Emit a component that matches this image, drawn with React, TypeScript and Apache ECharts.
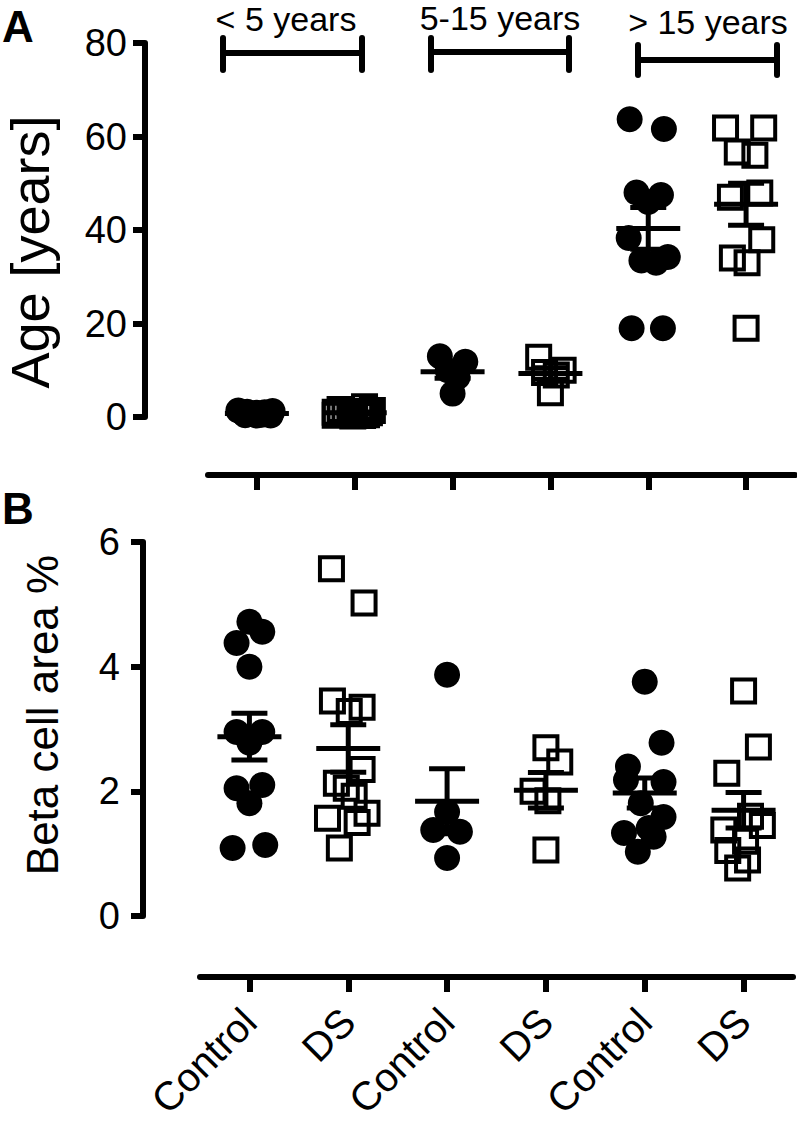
import React, { useEffect, useRef } from 'react';
import * as echarts from 'echarts';

// ---------- data ----------
const categories = ['Control', 'DS', 'Control', 'DS', 'Control', 'DS'];
const groupLabels = ['< 5 years', '5-15 years', '> 15 years'];
const ageTicks = [0, 20, 40, 60, 80];
const betaTicks = [0, 2, 4, 6];

// Panel A: age [years]
const ageControlUnder5 = [1.4, 1.3, 1.1, 1.0, 0.9, 0.8, 0.7, 0.6, 0.5, 0.4, 0.3, 0.3];
const ageControlUnder5Jitter = [-0.19, 0.16, -0.1, 0.08, 0, -0.14, 0.12, -0.05, 0.05, -0.12, 0.14, 0];
const ageDSUnder5 = [2.2, 1.6, 1.4, 1.2, 1.1, 1.0, 0.9, 0.7, 0.6, 0.5, 0.4, 0.3, 0.2];
const ageDSUnder5Jitter = [0.1, -0.15, 0.18, -0.05, 0.05, -0.2, 0.15, 0, -0.1, 0.12, -0.2, 0.08, -0.02];
const ageControl5to15 = [13, 11.8, 10, 8.5, 5];
const ageControl5to15Jitter = [-0.13, 0.13, -0.05, 0.05, 0];
const ageDS5to15 = [12.8, 10, 9.5, 9, 5.2];
const ageDS5to15Jitter = [-0.12, 0.13, -0.06, 0.06, 0];
const ageControlOver15 = [63.7, 61.6, 48, 47.5, 46, 38.3, 34.2, 33.5, 33, 19, 19];
const ageControlOver15Jitter = [-0.19, 0.16, -0.12, 0.13, 0, -0.2, 0.2, -0.07, 0.08, -0.17, 0.15];
const ageDSOver15 = [61.8, 61.8, 56.7, 56, 47.9, 47, 37.9, 34, 33, 19];
const ageDSOver15Jitter = [-0.21, 0.18, -0.09, 0.09, 0.14, -0.16, 0.16, -0.14, 0.01, 0];

// Panel B: beta cell area %
const betaControlUnder5 = [4.72, 4.56, 4.38, 4.0, 2.95, 2.95, 2.78, 2.1, 2.05, 1.81, 1.14, 1.09];
const betaControlUnder5Jitter = [0, 0.13, -0.13, 0, -0.13, 0.13, 0, 0.13, -0.13, 0, 0.16, -0.17];
const betaDSUnder5 = [5.57, 5.02, 3.45, 3.35, 3.28, 2.35, 2.13, 2.05, 1.92, 1.65, 1.57, 1.5, 1.09];
const betaDSUnder5Jitter = [-0.17, 0.16, -0.16, 0.14, 0.01, 0.14, -0.12, -0.02, 0.06, 0.19, -0.21, 0.09, -0.09];
const betaControl5to15 = [3.87, 1.67, 1.38, 1.35, 0.93];
const betaControl5to15Jitter = [0, 0, -0.14, 0.13, 0];
const betaDS5to15 = [2.7, 2.47, 2.0, 1.85, 1.06];
const betaDS5to15Jitter = [0, 0.14, -0.13, 0.02, 0];
const betaControlOver15 = [3.76, 2.78, 2.4, 2.18, 2.15, 1.81, 1.59, 1.41, 1.33, 1.27, 1.03];
const betaControlOver15Jitter = [0, 0.17, -0.17, -0.19, 0.19, -0.04, 0.19, 0.04, -0.21, 0.09, -0.07];
const betaDSOver15 = [3.61, 2.71, 2.29, 1.6, 1.45, 1.38, 1.2, 1.05, 0.9, 0.77];
const betaDSOver15Jitter = [0, 0.15, -0.17, 0.07, 0.19, -0.2, 0.02, -0.16, 0.04, -0.06];

// ---------- helpers ----------
const FONT = '"Liberation Sans", Arial, Helvetica, sans-serif';

const toPoints = (x: number, vals: number[], jit: number[]) =>
  vals.map((v, i) => [x + jit[i], v]);

const meanSem = (x: number, vals: number[]) => {
  const n = vals.length;
  const m = vals.reduce((a, b) => a + b, 0) / n;
  const sd = Math.sqrt(vals.reduce((a, b) => a + (b - m) * (b - m), 0) / (n - 1));
  return [x, m, sd / Math.sqrt(n)];
};

const ageControlGroups = [
  [ageControlUnder5, ageControlUnder5Jitter],
  [ageControl5to15, ageControl5to15Jitter],
  [ageControlOver15, ageControlOver15Jitter],
] as [number[], number[]][];
const ageDSGroups = [
  [ageDSUnder5, ageDSUnder5Jitter],
  [ageDS5to15, ageDS5to15Jitter],
  [ageDSOver15, ageDSOver15Jitter],
] as [number[], number[]][];
const betaControlGroups = [
  [betaControlUnder5, betaControlUnder5Jitter],
  [betaControl5to15, betaControl5to15Jitter],
  [betaControlOver15, betaControlOver15Jitter],
] as [number[], number[]][];
const betaDSGroups = [
  [betaDSUnder5, betaDSUnder5Jitter],
  [betaDS5to15, betaDS5to15Jitter],
  [betaDSOver15, betaDSOver15Jitter],
] as [number[], number[]][];

const buildPoints = (groups: [number[], number[]][], offset: number) =>
  groups.flatMap(([v, j], g) => toPoints(2 * g + offset, v, j));
const buildStats = (ctrl: [number[], number[]][], ds: [number[], number[]][]) =>
  ctrl.flatMap(([v], g) => [meanSem(2 * g + 1, v), meanSem(2 * g + 2, ds[g][0])]);

const renderMeanSem = (params: any, api: any) => {
  const x = api.value(0);
  const m = api.value(1);
  const s = api.value(2);
  const c = api.coord([x, m]);
  const hi = api.coord([x, m + s]);
  const lo = api.coord([x, m - s]);
  const meanHalf = 32;
  const capHalf = 18;
  const style = { stroke: '#000', lineWidth: 5, fill: null };
  return {
    type: 'group',
    children: [
      { type: 'line', shape: { x1: c[0] - meanHalf, y1: c[1], x2: c[0] + meanHalf, y2: c[1] }, style },
      { type: 'line', shape: { x1: c[0], y1: hi[1], x2: c[0], y2: lo[1] }, style },
      { type: 'line', shape: { x1: c[0] - capHalf, y1: hi[1], x2: c[0] + capHalf, y2: hi[1] }, style },
      { type: 'line', shape: { x1: c[0] - capHalf, y1: lo[1], x2: c[0] + capHalf, y2: lo[1] }, style },
    ],
  };
};

const axisLineStyle = { color: '#000', width: 6 };

const makeX = (gridIndex: number, offset: number, showLabels: boolean) => ({
  gridIndex,
  type: 'value',
  min: 0.5,
  max: 6.5,
  position: 'bottom',
  offset,
  splitLine: { show: false },
  axisLine: { show: true, onZero: false, lineStyle: axisLineStyle },
  axisTick: { show: true, length: 15, lineStyle: axisLineStyle, customValues: [1, 2, 3, 4, 5, 6] },
  axisLabel: {
    show: showLabels,
    customValues: [1, 2, 3, 4, 5, 6],
    formatter: (v: number) => categories[Math.round(v) - 1] ?? '',
    rotate: 45,
    fontSize: 40,
    fontFamily: FONT,
    color: '#000',
    margin: 38,
  },
});

const makeY = (gridIndex: number, ticks: number[], offset: number, margin: number) => ({
  gridIndex,
  type: 'value',
  min: ticks[0],
  max: ticks[ticks.length - 1],
  interval: ticks[1] - ticks[0],
  position: 'left',
  offset,
  splitLine: { show: false },
  axisLine: { show: true, onZero: false, lineStyle: axisLineStyle },
  axisTick: { show: true, length: 12, lineStyle: axisLineStyle },
  axisLabel: { fontSize: 38, fontFamily: FONT, color: '#000', margin },
});

const circleStyle = { color: '#000', opacity: 1 };
const squareStyle = { color: 'rgba(0,0,0,0)', borderColor: '#000', borderWidth: 4, opacity: 1 };

const bracket = (x1: number, x2: number, y: number, h1: number, h2: number) => {
  const style = { stroke: '#000', lineWidth: 6, lineCap: 'round' };
  return [
    { type: 'line', shape: { x1, y1: y, x2, y2: y }, style },
    { type: 'line', shape: { x1, y1: h1, x2: x1, y2: h2 }, style },
    { type: 'line', shape: { x1: x2, y1: h1, x2, y2: h2 }, style },
  ];
};

export default function App() {
  const ref = useRef<HTMLDivElement>(null);

  useEffect(() => {
    document.body.style.margin = '0';
    if (!ref.current) return;
    const chart = echarts.init(ref.current, null, { renderer: 'svg' });

    const option: any = {
      animation: false,
      backgroundColor: '#fff',
      grid: [
        { left: 208, top: 43, width: 587, height: 374 },
        { left: 200, top: 542, width: 593, height: 374 },
      ],
      xAxis: [makeX(0, 58, false), makeX(1, 61, true)],
      yAxis: [makeY(0, ageTicks, 63, 18), makeY(1, betaTicks, 57, 23)],
      series: [
        {
          name: 'Control', type: 'scatter', xAxisIndex: 0, yAxisIndex: 0,
          symbol: 'circle', symbolSize: 26, itemStyle: circleStyle, clip: false,
          data: buildPoints(ageControlGroups, 1),
        },
        {
          name: 'DS', type: 'scatter', xAxisIndex: 0, yAxisIndex: 0,
          symbol: 'rect', symbolSize: 23, itemStyle: squareStyle, clip: false,
          data: buildPoints(ageDSGroups, 2),
        },
        {
          type: 'custom', xAxisIndex: 0, yAxisIndex: 0, clip: false, z: 5,
          encode: { x: 0, y: 1 },
          renderItem: renderMeanSem,
          data: buildStats(ageControlGroups, ageDSGroups),
        },
        {
          name: 'Control', type: 'scatter', xAxisIndex: 1, yAxisIndex: 1,
          symbol: 'circle', symbolSize: 26, itemStyle: circleStyle, clip: false,
          data: buildPoints(betaControlGroups, 1),
        },
        {
          name: 'DS', type: 'scatter', xAxisIndex: 1, yAxisIndex: 1,
          symbol: 'rect', symbolSize: 23, itemStyle: squareStyle, clip: false,
          data: buildPoints(betaDSGroups, 2),
        },
        {
          type: 'custom', xAxisIndex: 1, yAxisIndex: 1, clip: false, z: 5,
          encode: { x: 0, y: 1 },
          renderItem: renderMeanSem,
          data: buildStats(betaControlGroups, betaDSGroups),
        },
      ],
      graphic: [
        ...bracket(223, 362, 53, 38, 70),
        ...bracket(431, 569, 52, 38, 70),
        ...bracket(638, 777, 60, 45, 75),
        {
          type: 'text', x: 286, y: 19,
          style: { text: groupLabels[0], font: `34px ${FONT}`, fill: '#000', align: 'center', verticalAlign: 'middle' },
        },
        {
          type: 'text', x: 500, y: 18,
          style: { text: groupLabels[1], font: `34px ${FONT}`, fill: '#000', align: 'center', verticalAlign: 'middle' },
        },
        {
          type: 'text', x: 708, y: 22,
          style: { text: groupLabels[2], font: `34px ${FONT}`, fill: '#000', align: 'center', verticalAlign: 'middle' },
        },
        {
          type: 'text', x: 2, y: 26,
          style: { text: 'A', font: `bold 44px ${FONT}`, fill: '#000', align: 'left', verticalAlign: 'middle' },
        },
        {
          type: 'text', x: 2, y: 508,
          style: { text: 'B', font: `bold 44px ${FONT}`, fill: '#000', align: 'left', verticalAlign: 'middle' },
        },
        {
          type: 'text', x: 30, y: 252, rotation: Math.PI / 2,
          style: { text: 'Age [years]', font: `54px ${FONT}`, fill: '#000', align: 'center', verticalAlign: 'middle' },
        },
        {
          type: 'text', x: 42, y: 715, rotation: Math.PI / 2,
          style: { text: 'Beta cell area %', font: `44px ${FONT}`, fill: '#000', align: 'center', verticalAlign: 'middle' },
        },
      ],
    };

    chart.setOption(option);
    return () => chart.dispose();
  }, []);

  return <div ref={ref} style={{ width: 797, height: 1124 }} />;
}
